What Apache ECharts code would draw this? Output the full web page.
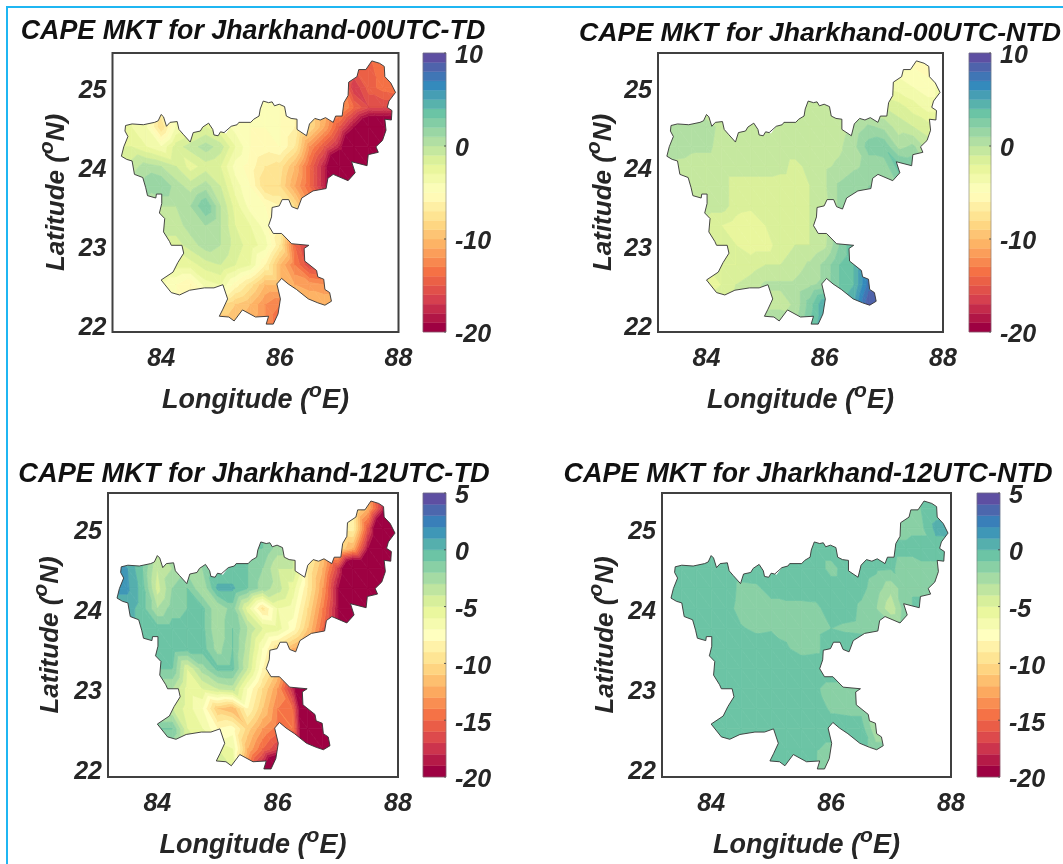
<!DOCTYPE html>
<html><head><meta charset="utf-8">
<style>html,body{margin:0;padding:0;background:#fff}#c{width:1063px;height:864px}</style>
<script src="https://cdn.jsdelivr.net/npm/echarts@6/dist/echarts.min.js"></script>
</head><body><div id="c"></div>
<script>
const spectralStops=['#9e0142','#d53e4f','#f46d43','#fdae61','#fee08b','#ffffbf','#e6f598','#abdda4','#66c2a5','#3288bd','#5e4fa2'];
const lons=[83.25,83.5,83.75,84,84.25,84.5,84.75,85,85.25,85.5,85.75,86,86.25,86.5,86.75,87,87.25,87.5,87.75,88];
const lats=[25.5,25.25,25,24.75,24.5,24.25,24,23.75,23.5,23.25,23,22.75,22.5,22.25,22];
const lonTicks=[84,86,88];
const latTicks=[22,23,24,25];
const outlineLon=[83.40,83.51,83.70,83.89,83.95,84.00,84.04,84.09,84.15,84.27,84.30,84.37,84.49,84.54,84.66,84.70,84.80,84.87,84.89,84.96,85.00,85.06,85.09,85.18,85.28,85.31,85.51,85.56,85.65,85.67,85.72,85.81,85.87,85.91,85.99,86.08,86.11,86.19,86.29,86.29,86.45,86.50,86.59,86.68,86.77,86.90,86.94,87.05,87.08,87.15,87.16,87.30,87.33,87.45,87.55,87.68,87.76,87.77,87.87,87.95,87.84,87.81,87.89,87.88,87.77,87.79,87.73,87.62,87.66,87.49,87.47,87.21,87.27,87.15,86.90,86.81,86.78,86.56,86.37,86.30,86.20,86.15,86.04,85.99,85.87,85.86,85.81,85.89,86.03,86.20,86.49,86.41,86.42,86.62,86.64,86.74,86.76,86.84,86.87,86.76,86.64,86.48,86.28,86.14,86.03,85.95,86.01,85.97,85.89,85.77,85.81,85.59,85.37,85.23,85.14,84.98,85.04,85.12,85.04,84.89,84.73,84.48,84.31,84.17,84.00,84.20,84.28,84.38,84.35,84.17,84.14,84.04,84.06,83.97,84.01,84.01,83.92,83.91,83.77,83.74,83.69,83.55,83.51,83.42,83.33,83.37,83.44,83.39,83.40];
const outlineLat=[24.52,24.54,24.53,24.56,24.58,24.66,24.63,24.51,24.56,24.57,24.47,24.41,24.31,24.43,24.45,24.50,24.55,24.47,24.40,24.39,24.44,24.43,24.42,24.51,24.53,24.56,24.56,24.60,24.64,24.73,24.83,24.81,24.82,24.77,24.79,24.76,24.64,24.61,24.60,24.47,24.39,24.54,24.61,24.59,24.62,24.56,24.64,24.64,24.81,24.90,25.07,25.14,25.23,25.23,25.34,25.31,25.27,25.14,25.06,24.94,24.83,24.75,24.71,24.59,24.60,24.46,24.33,24.25,24.18,24.15,24.01,24.06,23.92,23.82,23.90,23.85,23.72,23.69,23.60,23.46,23.49,23.58,23.58,23.50,23.48,23.36,23.25,23.15,23.15,23.02,23.00,22.96,22.80,22.68,22.60,22.57,22.44,22.40,22.29,22.24,22.27,22.32,22.44,22.51,22.58,22.51,22.32,22.13,22.00,22.00,22.10,22.09,22.18,22.04,22.09,22.10,22.19,22.32,22.50,22.46,22.46,22.43,22.37,22.40,22.56,22.66,22.78,22.90,23.00,23.00,23.05,23.17,23.34,23.41,23.53,23.65,23.65,23.60,23.63,23.73,23.86,23.90,24.07,24.09,24.13,24.25,24.38,24.45,24.52];
const cape00TD=[
[-3,-3,-3,-4,-4,-4,-4,-4,-4,-5,-5,-5,-6,-8,-10,-12,-14,-14,-13,-13],
[-3,-3,-3,-4,-4,-4,-4,-4,-4,-5,-5,-5,-6,-8,-10,-12,-15,-14.5,-13,-13],
[-3,-3,-4,-5,-4,-3,-3,-4,-4,-5,-5,-5,-6,-8,-10,-12,-17,-14.5,-13.5,-13],
[-3,-3,-4,-6,-4,-3,-3,-4,-4,-5,-5,-5,-6,-8,-10,-11,-14,-16,-16,-16],
[-3,-3,-4,-8,-4,-3,-2,-3,-4.5,-5,-5,-5,-6,-8,-11,-15,-19,-23,-23,-23],
[-2,-2,-3,-4,-1.5,-0.5,0.5,-0.5,-3,-5,-5.5,-5,-7,-12,-15,-18,-25,-25,-25,-25],
[-1,-0.5,0.5,0,-1,-2.5,-1.5,-2,-4.5,-5.5,-7,-7.5,-10,-14,-18,-25,-25,-25,-25,-25],
[0,0.5,1.5,2,0.5,-0.5,0.5,-1,-3.5,-5,-8,-8,-11,-14,-18,-25,-25,-25,-25,-25],
[0,0,0.5,0,0,1,3,0,-2.5,-4.5,-5,-6,-8,-12,-15,-18,-25,-25,-25,-25],
[-0.5,-0.5,-0.5,-0.5,-0.5,0.5,1,0,-2,-3,-4.5,-6,-8,-10,-12,-14,-15,-15,-15,-15],
[-1,-1,-1,-1,-1.5,-0.5,0.5,0,-1.5,-2.5,-3.5,-7,-14,-17,-16,-15,-15,-15,-15,-15],
[-2,-2,-2,-2.5,-2.5,-2.5,-1.5,-1,-2,-3,-6,-10,-13,-16,-14,-13,-13,-13,-13,-13],
[-4,-4,-4,-4,-5,-6,-3.5,-3,-5.5,-7.5,-10,-10,-11,-11.5,-12,-12,-12,-12,-12,-12],
[-5,-5,-5,-5,-5,-6,-6,-8,-9,-10,-12,-13,-11,-10,-10,-10,-10,-10,-10,-10],
[-5,-5,-5,-5,-5,-6,-7,-10,-10,-11,-12,-14,-12,-10,-10,-10,-10,-10,-10,-10]];
const cape00NTD=[
[-.5,-.5,-.5,-.5,-.5,-.5,-.5,-.5,-.5,-.5,-.5,-.5,-.5,-1.5,-2.5,-3.5,-4.5,-5.5,-6,-5],
[-.5,-.5,-.5,-.5,-.5,-.5,-.5,-.5,-.5,-.5,-.5,-.5,-.5,-1.5,-2.5,-3.5,-4.5,-5,-5.5,-4.5],
[-.5,-.5,-.5,-.5,-.5,-.5,-.5,-.5,-.5,-.5,-.5,-.5,-.5,-1,-2,-3,-3.5,-4,-4.5,-3.5],
[0,0,-.2,-.5,-.5,-.5,-.5,-.5,-.5,-.5,-.5,-.5,-.5,-.5,-.8,-1,-1.5,-2.5,-3.5,-3.5],
[.7,.7,.7,.3,-.2,-.5,-.5,-.5,-.5,-.5,-.5,-.5,-.5,.3,1.2,.7,-.5,-1,-1.5,-1.5],
[.7,.5,.2,.2,-.3,-.5,-.5,-.5,-.5,-.5,-.5,-.5,-.2,.7,2.5,2.8,.7,1.2,-.5,-.5],
[-.2,-.3,-.4,-.5,-.5,-.5,-.5,-.5,-.7,-1.3,-.7,-.2,.2,.8,1.3,1.3,3.5,3,.7,.7],
[-.5,-.5,-.5,-.5,-.5,-1.5,-1.5,-1.5,-1.5,-1.5,-1,-.2,1.2,1.8,2,2,2,2,2,2],
[-.5,-.5,-.5,-.5,-.5,-1.5,-1.7,-1.7,-1.7,-1.5,-1,-.5,1.2,2,2,2,2,2,2,2],
[-1.5,-1.5,-1.5,-1.5,-2,-2.5,-3,-2,-1.5,-1.5,-1,-.5,.8,2,2,2,2,2,2,2],
[-1.5,-1.5,-1.5,-1.7,-2,-2,-2.5,-2.5,-1.5,-1,-1,-.3,2,4,4,4,4,4,4,4],
[-2,-2,-2,-2,-2,-2,-1.5,-1,-1,-.5,.2,1.3,3,4,7,7,7,7,7,7],
[-3,-3,-3,-3,-2,-1,-.5,.2,.2,.2,.8,1.3,3,4,7.5,8,8,8,8,8],
[-.5,-.5,-.5,-.5,-.5,-.5,-.5,-.5,-.5,.2,2.5,5,3,5,9,9,9,9,9,9],
[.8,.8,.8,.8,.8,.8,.8,.8,1.3,.8,3,5,5,5,9,9,9,9,9,9]];
const cape12TD=[
[-.5,-.5,-.5,-.5,-.5,-.5,-.5,-.5,-1,-1,-1,-2,-4,-8,-10,-9,-10,-13,-18,-25],
[-.5,-.5,-.5,-.5,-.5,-.5,-.5,-.5,-1,-1,-1,-2,-4,-8,-10,-9,-9,-12,-18,-25],
[-.5,-.5,-.5,-.5,-.5,-.5,-.5,-.5,-1,-1,-1,-2,-4,-8,-10,-9,-8.5,-16,-25,-25],
[.7,.7,-.5,-3,-3,-2,-2,-1,-1,-1,-1,-2.5,-4,-8,-11,-10,-12,-19,-25,-25],
[1.5,1,-1,-4,-3,-2.5,-2,-.7,-.7,-1,-2,-4,-4,-9,-12,-17,-25,-25,-25,-25],
[1.2,1.2,-.5,-4.5,-2,-1,-3,.2,.2,-1,-2.5,-3.5,-5.5,-9,-13,-19,-25,-25,-25,-25],
[.5,.5,-.5,-3,-1.5,-1,-.7,-3,-1.5,-5.5,-9.5,-6,-6.5,-10,-14,-19,-25,-25,-25,-25],
[-.5,-.5,-.5,-.5,-.5,-.5,-.7,-3,-1,-3,-5,-5.5,-7.5,-11,-15,-19,-25,-25,-25,-25],
[-.5,-.5,-.5,-.5,-.3,-.5,-.5,-2.5,-1,-3.5,-7,-10,-12,-14,-16,-18,-25,-25,-25,-25],
[-1,-1,-1,-1,-1,-5,-2.5,-.7,-.7,-4,-8,-11,-14,-16,-18,-25,-25,-25,-25,-25],
[-3,-3,-3,-3,-3,-5.5,-5,-4,-3.5,-7,-10,-13,-18,-25,-25,-25,-25,-25,-25,-25],
[-4,-4,-4,-4,-4,-5.5,-7,-11,-12,-8,-11,-14,-15,-25,-25,-25,-25,-25,-25,-25],
[-1,-1,-1,-1,-1,-5,-6,-8,-7.5,-10.5,-13,-14.5,-14,-25,-25,-25,-25,-25,-25,-25],
[-3,-3,-3,-3,-3,-5,-5,-5,-6,-12,-15,-17,-25,-25,-25,-25,-25,-25,-25,-25],
[-4,-4,-4,-4,-4,-4,-4,-4,-5,-14,-19,-25,-25,-25,-25,-25,-25,-25,-25,-25]];
const cape12NTD=[
[-.4,-.4,-.4,-.4,-.4,-.4,-.4,-.4,-.4,-.4,-.4,-.4,-.4,-.4,-.4,-1.3,-1.3,-.8,-.5,.3],
[-.4,-.4,-.4,-.4,-.4,-.4,-.4,-.4,-.4,-.4,-.4,-.4,-.4,-.4,-.4,-1.3,-1.3,-1,-.5,.3],
[-.4,-.4,-.4,-.4,-.4,-.4,-.4,-.4,-.4,-.4,-.4,-.4,-.4,-.4,-.4,-1.3,-1.3,-1.3,.3,.5],
[-.4,-.4,-.4,-.4,-.4,-.4,-.4,-.4,-.4,-.4,-.4,-.4,-.4,-.4,-.4,-.8,-.8,-.5,-.5,-.5],
[-.4,-.4,-.4,-.4,-.4,-.4,-.4,-.4,-.4,-.4,-.4,-1.4,-.5,-.5,-.8,-.9,-1.3,-1.3,-1.3,-1.3],
[-.4,-.4,-.4,-.4,-.4,-1.3,-1.2,-.6,-.4,-.4,-.4,-.4,-.4,-.7,-1.5,-2.7,-1.3,-1.3,-1.3,-1.3],
[-.4,-.4,-.4,-.4,-.6,-1.4,-1.4,-1.4,-1.4,-1.4,-1.3,-.4,-.5,-1.2,-2,-3.8,-1.3,-.6,-.6,-.6],
[-.4,-.4,-.4,-.4,-.4,-.9,-1.2,-1.1,-1.2,-1.3,-1.2,-1,-1.2,-1.3,-1.3,-1.3,-1,-1,-1,-1],
[-.4,-.4,-.4,-.4,-.4,-.4,-.4,-.4,-.9,-1.3,-1.2,-.5,-.2,-.2,-.4,-.4,-.4,-.4,-.4,-.4],
[-.4,-.4,-.4,-.4,-.4,-.4,-.4,-.4,-.4,-.4,-.4,-.4,-.4,-.4,-.4,-.4,-.4,-.4,-.4,-.4],
[-.4,-.4,-.4,-.4,-.4,-.4,-.4,-.4,-.4,-.4,-.9,-1.3,-1.3,-1.3,-.4,-.4,-.4,-.4,-.4,-.4],
[-.4,-.4,-.4,-.4,-.4,-.4,-.4,-.4,-.4,-.4,-.4,-1.2,-1.3,-1.3,-1.3,-.4,-.4,-.4,-.4,-.4],
[-.4,-.4,-.4,-.4,-.4,-.4,-.4,-.4,-.4,-.4,-.4,-.4,-.4,-.5,-2.8,-2.8,-.4,-.4,-.4,-.4],
[-.4,-.4,-.4,-.4,-.4,-.4,-.4,-.4,-.4,-.4,-.9,-1.3,-1.3,-.6,-1.6,-1.6,-.4,-.4,-.4,-.4],
[-.4,-.4,-.4,-.4,-.4,-.4,-.4,-.4,-.4,-.4,-1,-2.5,-2.5,-.4,-.4,-.4,-.4,-.4,-.4,-.4]];
const ticks10=[10,0,-10,-20];
const ticks5=[5,0,-5,-10,-15,-20];

const panels=[
 {title:'CAPE MKT for Jharkhand-00UTC-TD',values:cape00TD,cmax:10,cticks:ticks10,box:[112.5,53,286,279],cbar:[423,23],titleX:248,titleY:27,titleSize:26.8,lonName:[255,398],latName:[62,193]},
 {title:'CAPE MKT for Jharkhand-00UTC-NTD',values:cape00NTD,cmax:10,cticks:ticks10,box:[658,53,285,279],cbar:[969,22],titleX:815,titleY:29,titleSize:26.7,lonName:[802,398],latName:[609,193]},
 {title:'CAPE MKT for Jharkhand-12UTC-TD',values:cape12TD,cmax:5,cticks:ticks5,box:[108,493,290,284],cbar:[423,23],titleX:249,titleY:470,titleSize:27.2,lonName:[253,843],latName:[56,635]},
 {title:'CAPE MKT for Jharkhand-12UTC-NTD',values:cape12NTD,cmax:5,cticks:ticks5,box:[662,493,289,284],cbar:[977,23],titleX:803,titleY:470,titleSize:27.1,lonName:[807,843],latName:[611,635]}
];
const LON=[83.18,88], LAT=[21.9,25.44], CMIN=-20;
const FONT='"Liberation Sans",Arial,sans-serif', INK='#262626';

function hex(c){return [1,3,5].map(i=>parseInt(c.substr(i,2),16));}
function spectral(t){
  const p=Math.min(.999999,Math.max(0,t))*(spectralStops.length-1),i=Math.floor(p),f=p-i;
  const a=hex(spectralStops[i]),b=hex(spectralStops[i+1]);
  return 'rgb('+a.map((v,k)=>Math.round(v+(b[k]-v)*f)).join(',')+')';
}
function bandColor(i,n){return spectral(i/(n-1));}
function clip(poly,level,keepAbove){
  const out=[];
  for(let i=0;i<poly.length;i++){
    const a=poly[i],b=poly[(i+1)%poly.length];
    const ina=keepAbove?a[2]>=level:a[2]<=level, inb=keepAbove?b[2]>=level:b[2]<=level;
    if(ina)out.push(a);
    if(ina!==inb){const f=(level-a[2])/(b[2]-a[2]);out.push([a[0]+(b[0]-a[0])*f,a[1]+(b[1]-a[1])*f,level]);}
  }
  return out;
}
function triangles(v){
  const d=[];
  for(let r=0;r<lats.length-1;r++)for(let c=0;c<lons.length-1;c++){
    const p=[lons[c],lats[r],v[r][c]],q=[lons[c+1],lats[r],v[r][c+1]],s=[lons[c+1],lats[r+1],v[r+1][c+1]],u=[lons[c],lats[r+1],v[r+1][c]];
    d.push([...p,...q,...s],[...p,...s,...u]);
  }
  return d;
}
const opt={animation:false,backgroundColor:'#fff',title:[],grid:[],xAxis:[],yAxis:[],series:[],
 graphic:[{type:'rect',silent:true,z:0,shape:{x:7,y:7,width:1100,height:900},style:{fill:null,stroke:'#1fb6f2',lineWidth:2}}]};
const axisFont={fontFamily:FONT,fontWeight:'bold',fontStyle:'italic',color:INK};
const richLon={a:{...axisFont,fontSize:27},s:{...axisFont,fontSize:21,verticalAlign:'bottom',padding:[0,0,18,0]}};
const richLat={a:{...axisFont,fontSize:26},s:{...axisFont,fontSize:21,verticalAlign:'bottom',padding:[0,0,18,0]}};
const richTick={v:{...axisFont,fontSize:25,lineHeight:25,padding:[7,0,0,0]}};
const tickFormat=v=>'{v|'+v+'}';

panels.forEach((P,k)=>{
  const [bx,by,bw,bh]=P.box, gi=k*2, n=P.cmax-CMIN;
  opt.title.push({text:P.title,left:P.titleX,top:P.titleY,textAlign:'center',textVerticalAlign:'middle',textStyle:{fontFamily:FONT,fontWeight:'bold',fontStyle:'italic',fontSize:P.titleSize,color:'#111'}});
  opt.grid.push({left:bx,top:by,width:bw,height:bh,show:false},{left:P.cbar[0],top:by,width:P.cbar[1],height:bh,show:false});
  opt.xAxis.push(
   {gridIndex:gi,type:'value',min:LON[0],max:LON[1],splitLine:{show:false},axisLine:{show:false},axisTick:{show:false},
    axisLabel:{...axisFont,fontSize:25,margin:15,customValues:lonTicks},
    name:'{a|Longitude (}{s|o}{a|E)}',nameLocation:'middle',nameGap:P.lonName[1]-by-bh-17,nameTextStyle:{rich:richLon}},
   {gridIndex:gi+1,type:'value',min:0,max:1,show:false});
  opt.yAxis.push(
   {gridIndex:gi,type:'value',min:LAT[0],max:LAT[1],splitLine:{show:false},axisLine:{show:false},axisTick:{show:false},
    axisLabel:{...axisFont,margin:6,customValues:latTicks,formatter:tickFormat,rich:richTick},
    name:'{a|Latitude (}{s|o}{a|N)}',nameLocation:'middle',nameRotate:90,nameGap:bx-P.latName[0]-14,nameTextStyle:{rich:richLat}},
   {gridIndex:gi+1,type:'value',position:'right',min:CMIN,max:P.cmax,splitLine:{show:false},
    axisLine:{show:false},axisTick:{show:false},
    axisLabel:{...axisFont,margin:9,customValues:P.cticks,formatter:tickFormat,rich:richTick}});
  // filled contour bands
  opt.series.push({type:'custom',xAxisIndex:gi,yAxisIndex:gi,z:2,silent:true,clip:true,
    encode:{x:[0,3,6],y:[1,4,7]},data:triangles(P.values),
    renderItem(params,api){
      const tri=[0,3,6].map(o=>[api.value(o),api.value(o+1),api.value(o+2)]);
      const children=[];
      for(let i=0;i<n;i++){
        const lo=CMIN+i, hi=lo+1;
        let poly=clip(tri,i===0?-1e9:lo,true);
        if(poly.length)poly=clip(poly,i===n-1?1e9:hi,false);
        if(poly.length>2){
          const col=bandColor(i,n);
          children.push({type:'polygon',shape:{points:poly.map(q=>api.coord([q[0],q[1]]))},style:{fill:col,stroke:col,lineWidth:.7}});
        }
      }
      return {type:'group',children};
    }});
  // white mask outside the state, frame on top
  opt.series.push({type:'custom',xAxisIndex:gi,yAxisIndex:gi,z:3,silent:true,clip:false,
    data:[[LON[0],LAT[0]]],
    renderItem(params,api){
      const tl=api.coord([LON[0],LAT[1]]),bl=api.coord([LON[0],LAT[0]]),br=api.coord([LON[1],LAT[0]]),tr=api.coord([LON[1],LAT[1]]);
      const ol=outlineLon.map((x,i)=>api.coord([x,outlineLat[i]]));
      return {type:'group',children:[
        {type:'polygon',shape:{points:[tl,bl,br,tr,tl,...ol,tl]},style:{fill:'#fff',stroke:null}},
        {type:'rect',shape:{x:tl[0],y:tl[1],width:tr[0]-tl[0],height:bl[1]-tl[1]},style:{fill:null,stroke:'#404040',lineWidth:2}}
      ]};
    }});
  // state outline
  opt.series.push({type:'line',xAxisIndex:gi,yAxisIndex:gi,z:4,silent:true,showSymbol:false,symbol:'none',
    data:outlineLon.map((x,i)=>[x,outlineLat[i]]),lineStyle:{color:'#333',width:.9}});
  // colour bar
  const bands=[];for(let i=0;i<n;i++)bands.push([CMIN+i,CMIN+i+1,i]);
  opt.series.push({type:'custom',xAxisIndex:gi+1,yAxisIndex:gi+1,z:2,silent:true,clip:false,
    encode:{y:[0,1]},data:bands,
    renderItem(params,api){
      const a=api.coord([0,api.value(0)]),b=api.coord([1,api.value(1)]);
      const col=bandColor(api.value(2),n);
      return {type:'rect',shape:{x:a[0],y:b[1],width:b[0]-a[0],height:a[1]-b[1]},style:{fill:col,stroke:col,lineWidth:.4}};
    }});
  // colour-bar ticks and edge
  opt.series.push({type:'custom',xAxisIndex:gi+1,yAxisIndex:gi+1,z:3,silent:true,clip:false,
    encode:{y:0},data:P.cticks.map(v=>[v]),
    renderItem(params,api){
      const a=api.coord([.92,api.value(0)]),b=api.coord([1,api.value(0)]);
      return {type:'line',shape:{x1:a[0],y1:a[1],x2:b[0],y2:b[1]},style:{stroke:'#404040',lineWidth:1}};
    }});
  opt.series.push({type:'custom',xAxisIndex:gi+1,yAxisIndex:gi+1,z:3,silent:true,clip:false,
    data:[[0]],
    renderItem(params,api){
      const a=api.coord([0,P.cmax]),b=api.coord([1,CMIN]);
      return {type:'rect',shape:{x:a[0],y:a[1],width:b[0]-a[0],height:b[1]-a[1]},style:{fill:null,stroke:'rgba(120,120,120,.55)',lineWidth:1}};
    }});
});
const chart=echarts.init(document.getElementById('c'),null,{renderer:'canvas'});
chart.setOption(opt);
</script></body></html>
